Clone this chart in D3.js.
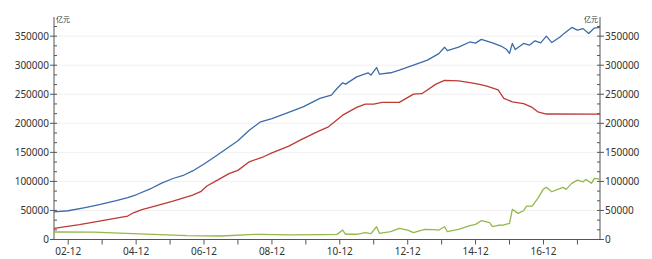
<!DOCTYPE html>
<html>
<head>
<meta charset="utf-8">
<title>Chart</title>
<style>
  body { margin: 0; background: #fff; }
  svg { display: block; font-family: "Noto Sans", "Noto Sans CJK SC", sans-serif; }
</style>
</head>
<body>
<svg width="652" height="259"></svg>
<script src="https://d3js.org/d3.v7.min.js"></script>
<script>
// values (亿元)
var blueMonths = ["2002-07","2002-12","2003-06","2003-11","2004-05","2004-09","2004-12","2005-05","2005-09","2006-01","2006-05","2006-08","2006-12","2007-04","2007-12","2008-04","2008-08","2008-12","2009-05","2009-11","2010-05","2010-09","2010-11","2011-01","2011-02","2011-06","2011-10","2011-11","2012-01","2012-02","2012-06","2012-09","2013-02","2013-07","2013-11","2014-01","2014-02","2014-06","2014-10","2014-12","2015-02","2015-06","2015-09","2015-11","2015-12","2016-01","2016-02","2016-05","2016-07","2016-09","2016-11","2017-01","2017-03","2017-06","2017-07","2017-10","2017-12","2018-02","2018-04","2018-06","2018-08"];
var blueValues = [47500,49500,55000,60000,66800,72000,77000,87000,97000,105000,111000,118000,130000,143000,170000,188000,202600,208000,217000,228400,242800,248500,260000,269700,267500,280000,286900,283000,296000,284600,287000,291500,300000,308700,320000,331000,325000,331000,340000,338000,344500,338500,333000,327000,320200,337500,327000,337500,334500,342000,338500,350000,339000,349000,353500,365000,360300,363000,354700,364000,365000];

var redMonths = ["2002-07","2003-04","2003-11","2004-07","2004-09","2004-11","2005-02","2005-07","2006-01","2006-08","2006-11","2007-01","2007-04","2007-09","2007-12","2008-04","2008-09","2008-12","2009-06","2009-10","2010-04","2010-08","2011-01","2011-06","2011-09","2011-12","2012-03","2012-09","2013-02","2013-05","2013-10","2014-01","2014-06","2014-10","2015-01","2015-04","2015-08","2015-10","2016-01","2016-05","2016-08","2016-10","2017-01","2018-08"];
var redValues = [19300,25500,31800,38500,40400,46000,51500,58000,66000,76500,83000,92000,100000,113800,119000,133800,142400,149000,160800,171000,185400,194000,214000,227400,233000,233000,236000,236000,250300,251000,267500,274000,273100,270000,267500,264000,257500,243000,237000,234000,227400,219800,216000,215700];

var greenMonths = ["2002-07","2003-09","2004-06","2005-06","2006-06","2007-06","2008-04","2008-08","2009-06","2010-06","2010-11","2011-01","2011-02","2011-06","2011-09","2011-11","2012-01","2012-02","2012-06","2012-09","2012-12","2013-02","2013-06","2013-09","2013-11","2014-01","2014-02","2014-06","2014-10","2014-12","2015-02","2015-05","2015-06","2015-08","2015-10","2015-12","2016-01","2016-03","2016-05","2016-06","2016-08","2016-10","2016-12","2017-01","2017-03","2017-05","2017-07","2017-08","2017-10","2017-12","2018-02","2018-03","2018-05","2018-06","2018-08"];
var greenValues = [12900,12800,11000,8900,6800,6000,8500,8900,8000,8500,8800,16300,9000,9000,11700,10000,22000,10600,13400,19300,16000,11700,17500,17000,16300,22000,13400,17500,24000,26100,32400,29000,22000,24500,25000,27900,52000,45000,49500,57600,57600,70900,87000,89800,82200,86300,89800,86300,96700,102300,99400,103500,96700,105300,104000];

var yTicks = [0,50000,100000,150000,200000,250000,300000,350000];
var unitLabel = "亿元";

var parse = d3.timeParse("%Y-%m");
var svg = d3.select("svg");
var plotL = 54, plotR = 600, plotT = 17, plotB = 239.5;

var x = d3.scaleTime()
  .domain([parse("2002-07"), parse("2018-08")])
  .range([plotL, plotR]);
var y = d3.scaleLinear().domain([0, 383000]).range([plotB, plotT]);

// gridlines
svg.append("g").selectAll("line")
  .data(yTicks.slice(1))
  .join("line")
  .attr("x1", plotL).attr("x2", plotR)
  .attr("y1", d => y(d)).attr("y2", d => y(d))
  .attr("stroke", "#f0f0f0").attr("stroke-width", 1);

var minorY = d3.range(0, 383000, 50000 / 3);

function yAxis(g, side) {
  g.append("line")
    .attr("x1", 0).attr("x2", 0)
    .attr("y1", plotT).attr("y2", plotB)
    .attr("stroke", "#555");
  g.selectAll(".minor").data(minorY).join("line")
    .attr("class", "minor")
    .attr("x1", 0).attr("x2", -side * 3)
    .attr("y1", d => y(d)).attr("y2", d => y(d))
    .attr("stroke", "#555");
  g.selectAll(".major").data(yTicks).join("line")
    .attr("class", "major")
    .attr("x1", 0).attr("x2", side * 4)
    .attr("y1", d => y(d)).attr("y2", d => y(d))
    .attr("stroke", "#555");
  g.selectAll("text").data(yTicks).join("text")
    .attr("x", side * 5)
    .attr("y", d => y(d))
    .attr("dy", "0.35em")
    .attr("text-anchor", side < 0 ? "end" : "start")
    .attr("font-size", 10)
    .attr("fill", "#333")
    .text(d => d);
}

svg.append("g").attr("transform", "translate(" + plotL + ",0)").call(yAxis, -1);
svg.append("g").attr("transform", "translate(" + plotR + ",0)").call(yAxis, 1);

svg.append("text").attr("x", plotL + 2).attr("y", plotT + 5)
  .attr("font-size", 7).attr("fill", "#333").text(unitLabel);
svg.append("text").attr("x", plotR - 2).attr("y", plotT + 5)
  .attr("text-anchor", "end")
  .attr("font-size", 7).attr("fill", "#333").text(unitLabel);

// x axis
var majorX = d3.range(2002, 2017, 2).map(yr => new Date(yr, 11, 1));
var minorX = d3.range(2003, 2018, 2).map(yr => new Date(yr, 11, 1));
var xg = svg.append("g");
xg.append("line").attr("x1", plotL).attr("x2", plotR)
  .attr("y1", plotB).attr("y2", plotB).attr("stroke", "#555");
xg.selectAll(".t").data(majorX.concat(minorX)).join("line")
  .attr("class", "t")
  .attr("x1", d => x(d)).attr("x2", d => x(d))
  .attr("y1", plotB).attr("y2", plotB + 5)
  .attr("stroke", "#555");
xg.selectAll("text").data(majorX).join("text")
  .attr("x", d => x(d)).attr("y", 255)
  .attr("text-anchor", "middle")
  .attr("font-size", 10).attr("fill", "#333")
  .text(d3.timeFormat("%y-%m"));

function drawLine(months, values, color) {
  var pts = months.map((m, i) => ({ date: parse(m), value: values[i] }));
  var line = d3.line().x(d => x(d.date)).y(d => y(d.value));
  svg.append("path")
    .attr("d", line(pts))
    .attr("fill", "none")
    .attr("stroke", color)
    .attr("stroke-width", 1.3)
    .attr("stroke-linejoin", "round");
}

drawLine(greenMonths, greenValues, "#94b84a");
drawLine(redMonths, redValues, "#be3a35");
drawLine(blueMonths, blueValues, "#3b6cab");
</script>
</body>
</html>
